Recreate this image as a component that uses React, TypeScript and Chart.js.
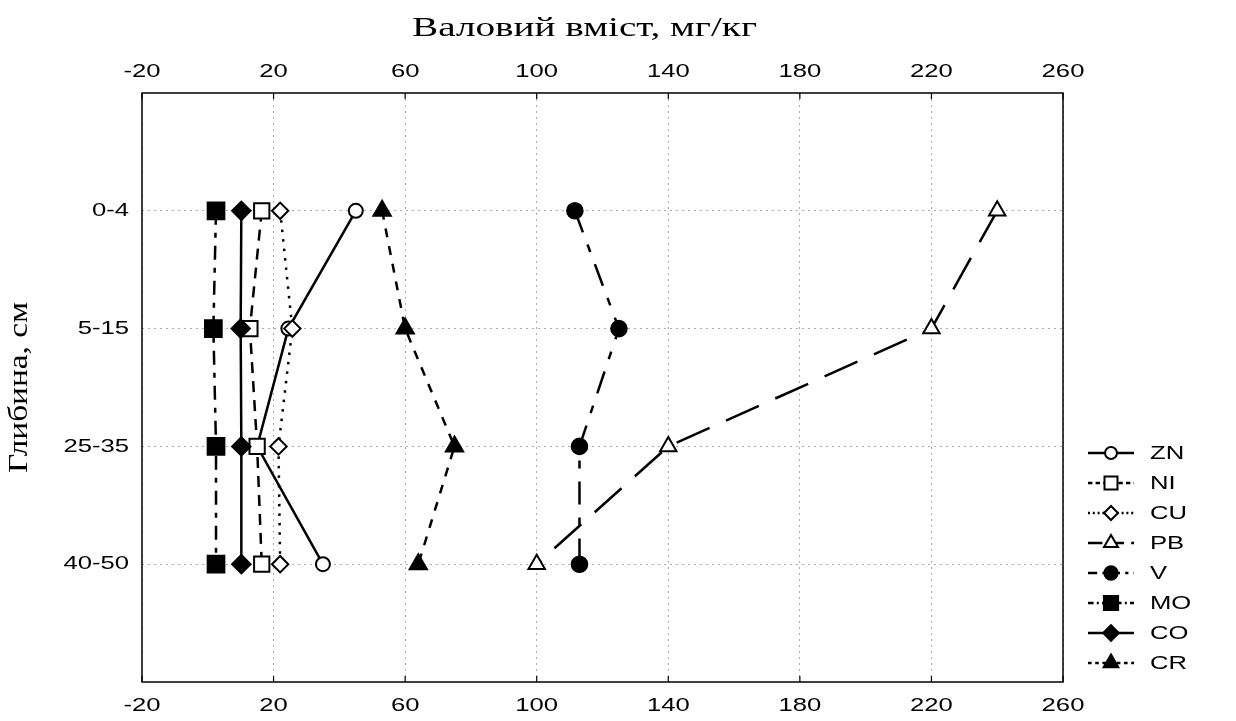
import React, { useEffect, useRef } from 'react';
import { Chart, registerables } from 'chart.js';

Chart.register(...registerables);

// ---- data ----
const depths = ['0-4', '5-15', '25-35', '40-50'];
const xTicks = [-20, 20, 60, 100, 140, 180, 220, 260];
const xTitle = 'Валовий вміст, мг/кг';
const yTitle = 'Глибина, см';
const seriesNames = ['ZN', 'NI', 'CU', 'PB', 'V', 'MO', 'CO', 'CR'];
const zn = [45, 24.5, 15, 35];
const ni = [16.4, 12.8, 15, 16.4];
const cu = [22, 25.7, 21.5, 22];
const pb = [240, 220, 140, 100];
const v = [111.6, 125, 113, 113];
const mo = [2.5, 1.7, 2.5, 2.5];
const co = [10.2, 10, 10.2, 10.2];
const cr = [53, 60, 75, 64];
const seriesValues = [zn, ni, cu, pb, v, mo, co, cr];

// ---- styles ----
type Sty = { dash: number[]; shape: 'circle' | 'rect' | 'rectRot' | 'triangle'; filled: boolean; r: number };
const styles: Sty[] = [
  { dash: [], shape: 'circle', filled: false, r: 7 },
  { dash: [11, 8], shape: 'rect', filled: false, r: 10.8 },
  { dash: [2.5, 7], shape: 'rectRot', filled: false, r: 8.2 },
  { dash: [36, 18], shape: 'triangle', filled: false, r: 9.5 },
  { dash: [23, 13, 8, 13], shape: 'circle', filled: true, r: 7.8 },
  { dash: [14, 8, 5, 8], shape: 'rect', filled: true, r: 11.8 },
  { dash: [], shape: 'rectRot', filled: true, r: 9.2 },
  { dash: [9, 9], shape: 'triangle', filled: true, r: 10 },
];

const SANS = 'Liberation Sans';
const SERIF = 'Liberation Serif';
const TICK_FONT = `19px "${SANS}"`;
const TEXT_STRETCH = 1.35;

function drawText(
  ctx: CanvasRenderingContext2D,
  text: string,
  x: number,
  y: number,
  font: string,
  sx: number,
  align: CanvasTextAlign,
  rotate = 0
) {
  ctx.save();
  ctx.fillStyle = '#000';
  ctx.font = font;
  ctx.textAlign = align;
  ctx.textBaseline = 'middle';
  ctx.translate(x, y);
  if (rotate) ctx.rotate(rotate);
  ctx.scale(sx, 1);
  ctx.fillText(text, 0, 0);
  ctx.restore();
}

function drawMarker(ctx: CanvasRenderingContext2D, s: Sty, x: number, y: number, r: number) {
  ctx.save();
  ctx.setLineDash([]);
  ctx.beginPath();
  if (s.shape === 'circle') {
    ctx.arc(x, y, r, 0, Math.PI * 2);
  } else if (s.shape === 'rect') {
    const h = r * Math.SQRT1_2;
    ctx.rect(x - h, y - h, 2 * h, 2 * h);
  } else if (s.shape === 'rectRot') {
    ctx.moveTo(x - r, y);
    ctx.lineTo(x, y - r);
    ctx.lineTo(x + r, y);
    ctx.lineTo(x, y + r);
    ctx.closePath();
  } else {
    const a = (2 * Math.PI) / 3;
    ctx.moveTo(x, y - r);
    ctx.lineTo(x + Math.sin(a) * r, y - Math.cos(a) * r);
    ctx.lineTo(x + Math.sin(2 * a) * r, y - Math.cos(2 * a) * r);
    ctx.closePath();
  }
  ctx.fillStyle = s.filled ? '#000' : '#fff';
  ctx.fill();
  ctx.lineWidth = 2;
  ctx.strokeStyle = '#000';
  ctx.stroke();
  ctx.restore();
}

const decorPlugin = {
  id: 'decor',
  beforeDatasetsDraw(chart: any) {
    const { ctx, chartArea } = chart;
    const { left, right, top, bottom } = chartArea;
    ctx.save();
    ctx.setLineDash([]);
    ctx.strokeStyle = '#000';
    ctx.lineWidth = 1.5;
    ctx.strokeRect(left, top, right - left, bottom - top);
    const xs = chart.scales.x;
    ctx.lineWidth = 1.2;
    ctx.beginPath();
    xTicks.forEach((t) => {
      const px = xs.getPixelForValue(t);
      ctx.moveTo(px, top);
      ctx.lineTo(px, top + 6);
      ctx.moveTo(px, bottom);
      ctx.lineTo(px, bottom - 6);
    });
    ctx.stroke();
    ctx.restore();
  },
  afterDraw(chart: any) {
    const { ctx, chartArea } = chart;
    const xs = chart.scales.x;
    const ys = chart.scales.y;
    // tick labels
    xTicks.forEach((t) => {
      const px = xs.getPixelForValue(t);
      drawText(ctx, String(t), px, chartArea.top - 21, TICK_FONT, TEXT_STRETCH, 'center');
      drawText(ctx, String(t), px, chartArea.bottom + 24, TICK_FONT, TEXT_STRETCH, 'center');
    });
    depths.forEach((d, i) => {
      const py = ys.getPixelForValue(i + 1);
      drawText(ctx, d, chartArea.left - 13, py, TICK_FONT, TEXT_STRETCH, 'right');
    });
    // titles
    drawText(
      ctx,
      xTitle,
      (chartArea.left + chartArea.right) / 2 - 18,
      29,
      `28px "${SERIF}"`,
      1.4,
      'center'
    );
    drawText(
      ctx,
      yTitle,
      20,
      (chartArea.top + chartArea.bottom) / 2,
      `28px "${SERIF}"`,
      1.19,
      'center',
      -Math.PI / 2
    );
    // legend
    const n = seriesNames.length;
    seriesNames.forEach((name, i) => {
      const s = styles[i];
      const y = chartArea.bottom - 19 - 30 * (n - 1 - i);
      const x0 = chartArea.right + 25;
      const x1 = x0 + 46;
      const cx = (x0 + x1) / 2;
      ctx.save();
      ctx.strokeStyle = '#000';
      ctx.lineWidth = 2.5;
      ctx.setLineDash(s.dash.length ? s.dash.map((d) => Math.max(2, d * 0.4)) : []);
      ctx.beginPath();
      ctx.moveTo(x0, y);
      ctx.lineTo(x1, y);
      ctx.stroke();
      ctx.restore();
      drawMarker(ctx, s, cx, y, s.r * 0.85);
      drawText(ctx, name, x1 + 16, y + 1, TICK_FONT, TEXT_STRETCH, 'left');
    });
  },
};

export default function App() {
  const ref = useRef<HTMLCanvasElement | null>(null);
  useEffect(() => {
    if (!ref.current) return;
    Chart.defaults.font.family = SANS;
    const datasets = seriesValues.map((vals, i) => {
      const s = styles[i];
      return {
        label: seriesNames[i],
        data: vals.map((x, j) => ({ x, y: j + 1 })),
        borderColor: '#000',
        borderWidth: 2.5,
        borderDash: s.dash,
        pointStyle: s.shape,
        pointRadius: s.r,
        pointHoverRadius: s.r,
        pointBackgroundColor: s.filled ? '#000' : '#fff',
        pointBorderColor: '#000',
        pointBorderWidth: 2,
        tension: 0,
        fill: false,
        showLine: true,
        order: seriesNames.length - i,
        xAxisID: 'x',
        yAxisID: 'y',
      };
    });
    const setXTicks = (s: any) => {
      s.ticks = xTicks.map((t) => ({ value: t }));
    };
    const chart = new Chart(ref.current, {
      type: 'line',
      data: { datasets: datasets as any },
      plugins: [decorPlugin],
      options: {
        animation: false,
        responsive: false,
        devicePixelRatio: 1,
        layout: { padding: { left: 0, top: 0, right: 173, bottom: 0 } },
        plugins: { legend: { display: false }, tooltip: { enabled: false } },
        scales: {
          x: {
            type: 'linear',
            position: 'bottom',
            min: -20,
            max: 260,
            afterBuildTicks: setXTicks,
            afterFit: (s: any) => {
              s.height = 39;
            },
            ticks: { display: false },
            grid: { color: '#adadad', lineWidth: 1, drawTicks: false },
            border: { display: false, dash: [2, 4] },
          },
          x2: {
            type: 'linear',
            position: 'top',
            min: -20,
            max: 260,
            afterBuildTicks: setXTicks,
            afterFit: (s: any) => {
              s.height = 93;
            },
            ticks: { display: false },
            grid: { display: false, drawTicks: false },
            border: { display: false },
          },
          y: {
            type: 'linear',
            position: 'left',
            min: 0,
            max: 5,
            reverse: true,
            afterBuildTicks: (s: any) => {
              s.ticks = depths.map((_, i) => ({ value: i + 1 }));
            },
            afterFit: (s: any) => {
              s.width = 142;
            },
            ticks: { display: false },
            grid: { color: '#adadad', lineWidth: 1, drawTicks: false },
            border: { display: false, dash: [2, 4] },
          },
        },
      } as any,
    });
    return () => chart.destroy();
  }, []);
  return (
    <div style={{ position: 'fixed', left: 0, top: 0, width: 1236, height: 721, background: '#fff' }}>
      <canvas ref={ref} width={1236} height={721} style={{ display: 'block', width: 1236, height: 721 }} />
    </div>
  );
}
